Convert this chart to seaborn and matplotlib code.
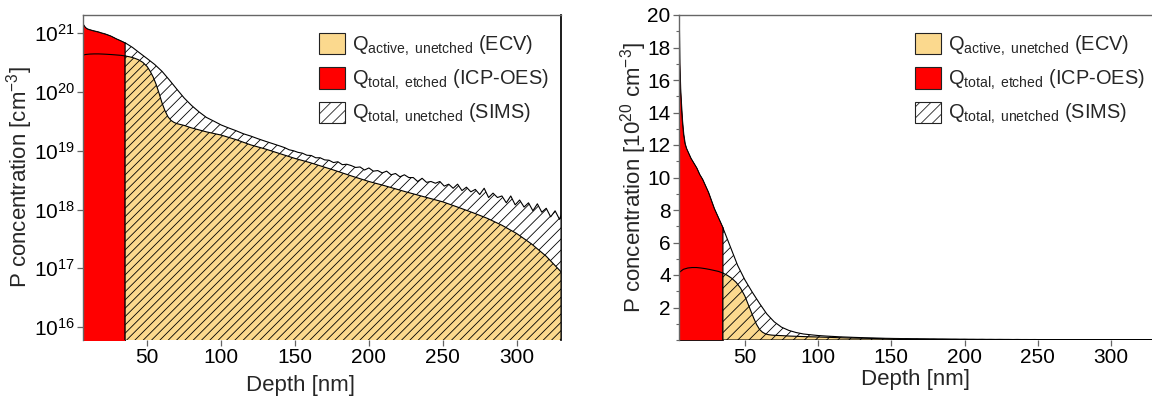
import matplotlib
matplotlib.use("Agg")
import numpy as np
import pandas as pd
import matplotlib.pyplot as plt
import seaborn as sns
from matplotlib.patches import Patch
from matplotlib.ticker import NullLocator, FixedLocator, MultipleLocator

# ---------------- data ----------------
# SIMS total P profile (unetched), depth in nm, concentration in cm^-3
sims_depth = [5.0, 5.4, 5.9, 6.5, 7.2, 8, 9, 10, 11.5, 13, 15, 17, 19, 21, 23, 25, 27, 29, 31, 33, 35,
              40, 45, 50, 55, 60, 65, 70, 75, 80, 85, 90, 95, 100, 105, 110, 115, 120, 125, 130, 135, 140,
              143, 146, 149, 152, 155, 158, 161, 164, 167, 170, 173, 176, 179, 182, 185, 188, 191, 194, 197,
              200, 203, 206, 209, 212, 215, 218, 221, 224, 227, 230, 233, 236, 239, 242, 245, 248, 251, 254,
              257, 260, 263, 266, 269, 272, 275, 278, 281, 284, 287, 290, 293, 296, 299, 302, 305, 308, 311,
              314, 317, 320, 323, 326, 329, 330]
sims_conc = [1.95e21, 1.7e21, 1.55e21, 1.45e21, 1.35e21, 1.27e21, 1.21e21, 1.18e21, 1.15e21, 1.12e21,
             1.09e21, 1.06e21, 1.02e21, 9.9e20, 9.5e20, 9.1e20, 8.6e20, 8.1e20, 7.7e20, 7.3e20, 6.9e20,
             5.75e20, 4.6e20, 3.7e20, 2.95e20, 2.25e20, 1.6e20, 1.12e20, 7.9e19, 5.9e19, 4.6e19, 3.7e19,
             3.2e19, 2.75e19, 2.45e19, 2.2e19, 1.95e19, 1.78e19, 1.6e19, 1.45e19, 1.32e19, 1.2e19,
             1.13e19, 1.04e19, 1.0e19, 9.4e18, 9.1e18, 8.4e18, 8.3e18, 7.6e18, 7.6e18, 7.0e18, 6.9e18,
             6.3e18, 6.5e18, 5.8e18, 5.9e18, 5.6e18, 5.2e18, 5.3e18, 4.7e18, 5.1e18, 4.5e18, 4.6e18,
             4.2e18, 4.5e18, 3.9e18, 4.1e18, 3.6e18, 3.9e18, 3.5e18, 3.5e18, 3.0e18, 3.4e18, 2.9e18,
             3.0e18, 2.8e18, 3.0e18, 2.5e18, 2.7e18, 2.3e18, 2.7e18, 2.1e18, 2.4e18, 2.0e18, 2.2e18,
             1.8e18, 2.3e18, 1.6e18, 1.9e18, 1.6e18, 1.7e18, 1.3e18, 1.7e18, 1.2e18, 1.45e18, 1.1e18,
             1.3e18, 0.95e18, 1.25e18, 0.9e18, 1.05e18, 0.75e18, 0.95e18, 0.68e18, 0.8e18]

# ECV active P profile, depth in nm, concentration in cm^-3
ecv_depth = [5, 8, 11, 14, 17, 20, 23, 26, 29, 32, 35, 38, 41, 44, 47, 50, 52, 54, 56, 58, 60, 62, 64,
             66, 68, 70, 75, 80, 90, 100, 110, 120, 130, 140, 150, 160, 175, 190, 200, 210, 225, 240,
             250, 260, 270, 280, 290, 300, 310, 320, 330]
ecv_conc = [4.15e20, 4.35e20, 4.43e20, 4.46e20, 4.46e20, 4.43e20, 4.39e20, 4.34e20, 4.28e20, 4.22e20,
            4.12e20, 3.98e20, 3.8e20, 3.55e20, 3.2e20, 2.7e20, 2.25e20, 1.8e20, 1.35e20, 9.5e19, 6.5e19,
            4.8e19, 3.8e19, 3.3e19, 3.05e19, 2.9e19, 2.7e19, 2.45e19, 2.1e19, 1.85e19, 1.55e19, 1.26e19,
            1.07e19, 8.9e18, 7.4e18, 6.3e18, 4.8e18, 3.6e18, 3.0e18, 2.57e18, 2.0e18, 1.58e18, 1.35e18,
            1.1e18, 8.9e17, 7.1e17, 5.4e17, 3.9e17, 2.6e17, 1.6e17, 8.7e16]

etched_depth = 35.0
x_ticks = [50, 100, 150, 200, 250, 300]
log_ticks = [1e16, 1e17, 1e18, 1e19, 1e20, 1e21]
lin_ticks = [2, 4, 6, 8, 10, 12, 14, 16, 18, 20]
legend_labels = [r"Q$_{\mathregular{active,\ unetched}}$ (ECV)",
                 r"Q$_{\mathregular{total,\ etched}}$ (ICP-OES)",
                 r"Q$_{\mathregular{total,\ unetched}}$ (SIMS)"]

# ---------------- style ----------------
sns.set_theme(style="ticks")
plt.rcParams["font.family"] = ["Liberation Sans", "DejaVu Sans"]
plt.rcParams["mathtext.fontset"] = "custom"
plt.rcParams["mathtext.rm"] = "Liberation Sans"
plt.rcParams["mathtext.it"] = "Liberation Sans:italic"
plt.rcParams["mathtext.bf"] = "Liberation Sans:bold"
plt.rcParams["hatch.linewidth"] = 0.6
plt.rcParams["hatch.color"] = "black"

YELLOW = "#FBD98E"
RED = "#FF0000"
GRAY = "#666666"

sims = pd.DataFrame({"depth": sims_depth, "conc": sims_conc})
ecv = pd.DataFrame({"depth": ecv_depth, "conc": ecv_conc})

fig = plt.figure(figsize=(11.52, 3.99), dpi=100)
ax1 = fig.add_axes([83 / 1152, 59 / 399, 478 / 1152, 325 / 399])
ax2 = fig.add_axes([679 / 1152, 59 / 399, 473 / 1152, 325 / 399])


def draw(ax, scale, floor, yellow_hatch):
    s = sims.copy()
    e = ecv.copy()
    s["y"] = s["conc"] / scale
    e["y"] = e["conc"] / scale
    s_et = s[s["depth"] <= etched_depth]
    s_un = s[s["depth"] >= etched_depth]
    e_un = e[e["depth"] >= etched_depth]
    e_et = e[e["depth"] <= etched_depth]
    # etched part (ICP-OES)
    ax.fill_between(s_et["depth"], floor, s_et["y"], facecolor=RED, edgecolor="black",
                    linewidth=0.6, zorder=3)
    # SIMS unetched (hatched white)
    ax.fill_between(s_un["depth"], floor, s_un["y"], facecolor="white", edgecolor="black",
                    hatch="///", linewidth=0.8, zorder=3)
    # ECV unetched (yellow hatched)
    ax.fill_between(e_un["depth"], floor, e_un["y"], facecolor=YELLOW, edgecolor="black",
                    hatch=yellow_hatch, linewidth=0.8, zorder=4)
    # ECV profile line over the etched part
    sns.lineplot(data=e_et, x="depth", y="y", ax=ax, color="black", linewidth=0.8,
                 zorder=5, legend=False)
    sns.lineplot(data=s_et, x="depth", y="y", ax=ax, color="black", linewidth=0.6,
                 zorder=5, legend=False)

    for side in ["left", "top"]:
        ax.spines[side].set_color(GRAY)
        ax.spines[side].set_linewidth(1.0)
        ax.spines[side].set_zorder(6)
    ax.spines["right"].set_color("black")
    ax.spines["right"].set_zorder(2.5)
    ax.spines["bottom"].set_visible(False)
    ax.tick_params(axis="both", which="major", direction="out", length=4, width=0.9,
                   color=GRAY, labelsize=15, pad=2, labelcolor="black")
    ax.tick_params(axis="both", which="minor", direction="out", length=2.5, width=0.8,
                   color=GRAY)
    ax.xaxis.set_major_locator(FixedLocator(x_ticks))
    ax.set_xlabel("Depth [nm]", fontsize=16, labelpad=1)
    ax.set_facecolor("white")
    h = [Patch(facecolor=YELLOW, edgecolor="#222222", linewidth=0.8),
         Patch(facecolor=RED, edgecolor="#222222", linewidth=0.8),
         Patch(facecolor="white", edgecolor="#222222", hatch="///", linewidth=0.8)]
    return h


legend_kw = dict(loc="upper left", frameon=False, fontsize=14.4, handlelength=1.3,
                 handleheight=1.27, handletextpad=0.34, labelspacing=0.48, borderpad=0,
                 borderaxespad=0)

# left: logarithmic
h = draw(ax1, 1.0, 1e15, "////")
ax1.set_yscale("log")
ax1.set_ylim(6e15, 2.05e21)
ax1.set_xlim(6.5, 330)
ax1.yaxis.set_major_locator(FixedLocator(log_ticks))
ax1.yaxis.set_minor_locator(NullLocator())
ax1.set_ylabel(r"P concentration [cm$^{-3}$]", fontsize=16, labelpad=-1)
ax1.xaxis.set_label_coords(0.455, -0.108)
ax1.legend(h, legend_labels, bbox_to_anchor=(0.494, 0.945), **legend_kw)

# right: linear in 1e20 cm^-3
h = draw(ax2, 1e20, 0.0, "///")
ax2.set_ylim(0, 20)
ax2.set_xlim(5, 328)
ax2.yaxis.set_major_locator(FixedLocator(lin_ticks))
ax2.yaxis.set_minor_locator(MultipleLocator(1))
ax2.spines["right"].set_visible(False)
ax2.set_ylabel(r"P concentration [10$^{20}$ cm$^{-3}$]", fontsize=16, labelpad=-1)
ax2.legend(h, legend_labels, bbox_to_anchor=(0.499, 0.945), **legend_kw)

fig.savefig("out.png", dpi=100)
